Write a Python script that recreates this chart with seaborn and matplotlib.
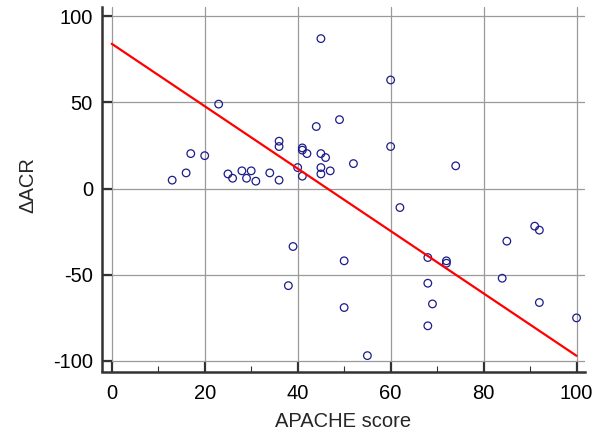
import matplotlib
matplotlib.use("Agg")
import matplotlib.pyplot as plt
import seaborn as sns
import pandas as pd
from matplotlib.ticker import MultipleLocator

# Data
apache = [45, 23, 49, 44, 36, 36, 41, 41, 42, 45, 46, 17, 20, 16, 13, 25, 26, 28,
          29, 30, 31, 34, 36, 40, 41, 45, 45, 47, 52, 60, 60, 74,
          39, 38, 50, 50, 62, 55, 68, 72, 72, 68, 69, 68, 85, 84, 91, 92, 92, 100]
dacr = [87, 49, 40, 36, 27.5, 24.4, 23.6, 22.3, 20.3, 20.3, 18, 20.3, 19.1, 9.1, 4.9,
        8.5, 6, 10.3, 6, 10.3, 4.3, 9.1, 4.9, 12.2, 7.2, 12.2, 8.5, 10.3, 14.5, 63, 24.4, 13.2,
        -33.6, -56.3, -41.9, -69, -11, -96.9, -40, -41.9, -43.3, -54.9, -66.9, -79.6,
        -30.5, -52, -21.8, -24.1, -66.1, -75]
fit_x = [0, 100]
fit_y = [84, -97]

df = pd.DataFrame({"APACHE score": apache, "dACR": dacr})
fit = pd.DataFrame({"x": fit_x, "y": fit_y})

sns.set_style("white")
plt.rcParams["font.family"] = ["Liberation Sans", "DejaVu Sans"]
plt.rcParams["axes.unicode_minus"] = False

fig = plt.figure(figsize=(5.94, 4.34), dpi=100)
ax = fig.add_axes([0.1717, 0.1643, 0.813, 0.819])

ax.set_xlim(-2.1, 101.8)
ax.set_ylim(-101, 105.2)

ax.grid(True, color="#9a9a9a", linewidth=0.9)
ax.set_axisbelow(True)

sns.scatterplot(data=df, x="APACHE score", y="dACR", ax=ax, marker="o",
                facecolor="none", edgecolor="#1c1c8a", linewidth=0.9, s=30, zorder=3)
sns.lineplot(data=fit, x="x", y="y", ax=ax, color="#ff0000", linewidth=1.6, zorder=4)

for s in ["top", "right"]:
    ax.spines[s].set_visible(False)
for s in ["left", "bottom"]:
    ax.spines[s].set_color("#333333")
    ax.spines[s].set_linewidth(1.8)
ax.spines["bottom"].set_position(("outward", 6.5))
ax.spines["left"].set_bounds(-106, 105.2)

ax.xaxis.set_major_locator(MultipleLocator(20))
ax.xaxis.set_minor_locator(MultipleLocator(10))
ax.yaxis.set_major_locator(MultipleLocator(50))
ax.tick_params(axis="both", which="major", direction="in", length=7.5, width=1.6,
               color="#333333", labelsize=14.5, labelcolor="black", pad=6.5)
ax.tick_params(axis="x", which="major", pad=9)
ax.tick_params(axis="x", which="minor", direction="in", length=4.5, width=0.8,
               color="#333333", bottom=True)
ax.tick_params(axis="x", which="major", bottom=True)
ax.tick_params(axis="y", which="major", left=True)

ax.set_xlabel("APACHE score", fontsize=14.5, labelpad=6)
ax.set_ylabel("ΔACR", fontsize=14.5, labelpad=11.5)

fig.savefig("out.png", dpi=100)
